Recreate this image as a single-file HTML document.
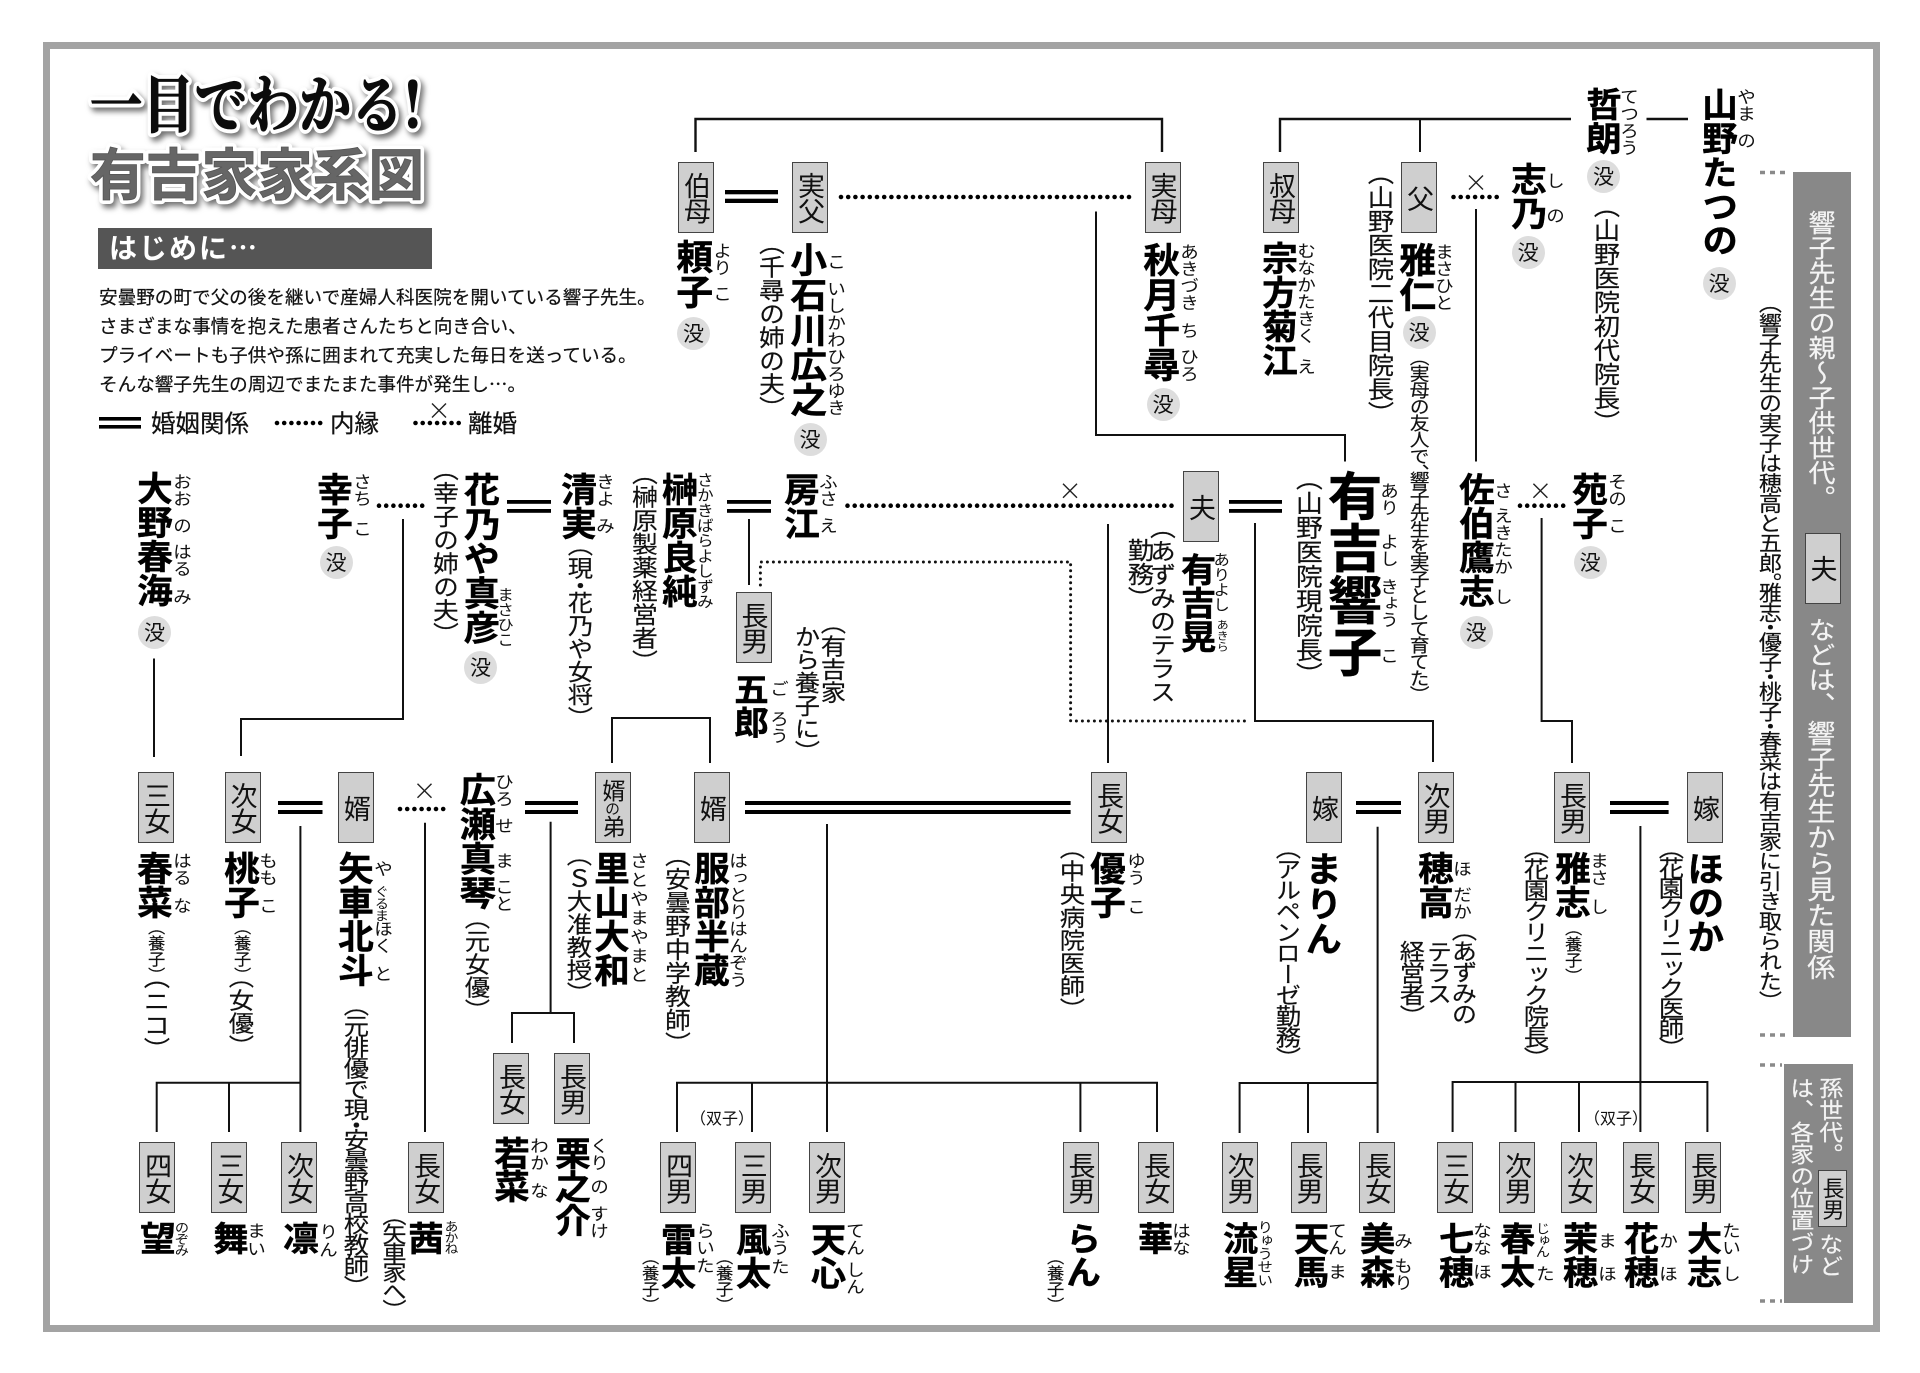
<!DOCTYPE html>
<html lang="ja"><head><meta charset="utf-8"><title>有吉家家系図</title>
<style>
html,body{margin:0;padding:0;background:#fff}
#w{position:relative;width:1920px;height:1373px;overflow:hidden;background:#fff;font-family:"Liberation Sans","Noto Sans CJK JP",sans-serif;color:#111}
svg{position:absolute;left:0;top:0}
p{margin:0;position:absolute;white-space:nowrap;line-height:1;writing-mode:vertical-rl;text-orientation:upright;font-feature-settings:"vhal"}
.n{font-size:35px;font-weight:700;color:#000;font-feature-settings:normal;-webkit-text-stroke:.4px #000;transform:translate(-.11em,-.02em) scaleX(1.05)}
.f{font-size:17px;letter-spacing:0;font-feature-settings:normal;transform:translateX(-.13em) scaleX(1.1)}
.t{font-size:23.5px;-webkit-text-stroke:.15px #111;transform:translateX(-.08em) scaleX(1.1)}
.s{font-size:16px;transform:translateX(-.1em) scaleX(1.08);-webkit-text-stroke:.15px #111}
.m{width:33px;height:33px;border-radius:50%;background:#ddd;writing-mode:horizontal-tb;text-align:center;line-height:33px;font-size:21px;font-family:"Noto Sans CJK JP",sans-serif}
.h{writing-mode:horizontal-tb;font-feature-settings:normal;font-family:"Noto Sans CJK JP",sans-serif;-webkit-text-stroke:.2px #111}
.b{position:absolute;box-sizing:border-box;width:36px;height:71px;padding-right:3px;background:#cfcfcf;border:1.5px solid #444;writing-mode:vertical-rl;text-orientation:upright;display:flex;align-items:center;justify-content:center;font-size:27px;letter-spacing:-1.5px;line-height:1;color:#111}
.w{color:#f4f4f4;font-feature-settings:normal;transform:translateX(-.13em) scaleX(1.08);-webkit-text-stroke:.2px #f4f4f4}
</style></head><body><div id="w">
<svg width="1920" height="1373" viewBox="0 0 1920 1373">
<rect x="46.5" y="45.5" width="1830" height="1283" fill="none" stroke="#a3a3a3" stroke-width="7"/>
<g font-family="'Noto Serif CJK JP','Noto Serif CJK SC',serif" font-weight="700" style="filter:drop-shadow(3px 4px 3px rgba(0,0,0,.55))">
<text x="90" y="127" font-size="62" textLength="332" lengthAdjust="spacingAndGlyphs" fill="#fff" stroke="#fff" stroke-width="9" stroke-linejoin="round">一目でわかる!</text>
<text x="90" y="127" font-size="62" textLength="332" lengthAdjust="spacingAndGlyphs" fill="#0c0c0c" stroke="#0c0c0c" stroke-width="1.2">一目でわかる!</text></g>
<g font-family="'Noto Sans CJK JP',sans-serif" font-weight="700" style="filter:drop-shadow(3px 4px 3px rgba(0,0,0,.55))">
<text x="90" y="195" font-size="56" textLength="334" lengthAdjust="spacingAndGlyphs" fill="#fff" stroke="#fff" stroke-width="8" stroke-linejoin="round">有吉家家系図</text>
<text x="90" y="195" font-size="56" textLength="334" lengthAdjust="spacingAndGlyphs" fill="#666" stroke="#555" stroke-width=".8">有吉家家系図</text></g>
<rect x="98" y="228" width="334" height="41" fill="#555"/>
<text x="109" y="258" font-family="'Noto Sans CJK JP',sans-serif" font-weight="700" font-size="28" letter-spacing="2" fill="#fff">はじめに…</text>
<!-- sidebars -->
<rect x="1793" y="172" width="58" height="865" fill="#888"/>
<rect x="1784" y="1064" width="69" height="239" fill="#888"/>
<g stroke="#8a8a8a" stroke-width="3.5" stroke-dasharray="5 5" fill="none">
<path d="M1760 172.5H1786M1760 1035H1786M1760 1065H1782M1760 1301H1782"/></g>
<!-- solid lines -->
<g fill="none" stroke="#111" stroke-width="2">
<path d="M695.5 152V119H1162V152" stroke-width="2.4"/>
<path d="M1280 152V119H1571" stroke-width="2.4"/>
<path d="M1420 119V152"/>
<path d="M1646.5 119H1688" stroke-width="2.4"/>
<path d="M1096 211.5V435H1345V461.5"/>
<path d="M1476 209V461.5"/>
<path d="M403 519V719H241V756"/>
<path d="M154 658.5V757"/>
<path d="M612 763V718H710V763"/>
<path d="M749 519V585"/>
<path d="M1108 524V763"/>
<path d="M1255 523V721H1433V762"/>
<path d="M1541.6 518V721H1572V763"/>
<path d="M300.4 826V1132M156.7 1132V1082.7H300.4M229 1082.7V1132"/>
<path d="M425 822.7V1132"/>
<path d="M550.6 821.7V1013M512 1043V1013H574V1043"/>
<path d="M827 824V1132M677 1132V1082.7H1157V1132M752 1082.7V1132M1080.4 1082.7V1132"/>
<path d="M1377.6 826.7V1133M1239.6 1133V1083H1377.6M1308 1083V1133"/>
<path d="M1640.4 826V1132M1452.6 1132V1082H1707.4V1132M1515.5 1082V1132M1579 1082V1132"/>
</g>
<!-- double lines -->
<g fill="#000">
<rect x="725" y="190" width="53" height="4.3"/><rect x="725" y="198.7" width="53" height="4.3"/>
<rect x="99" y="417" width="42" height="3.6"/><rect x="99" y="425" width="42" height="3.6"/>
<rect x="507" y="500" width="44" height="3.8"/><rect x="507" y="509" width="44" height="3.8"/>
<rect x="727" y="500" width="44" height="3.8"/><rect x="727" y="509" width="44" height="3.8"/>
<rect x="1229" y="500" width="53" height="3.8"/><rect x="1229" y="509" width="53" height="3.8"/>
<rect x="278" y="801" width="44.5" height="4"/><rect x="278" y="810" width="44.5" height="4"/>
<rect x="525" y="801" width="53" height="4"/><rect x="525" y="810" width="53" height="4"/>
<rect x="745" y="801" width="325.6" height="4"/><rect x="745" y="810" width="325.6" height="4"/>
<rect x="1356" y="801" width="45" height="4"/><rect x="1356" y="810" width="45" height="4"/>
<rect x="1610" y="801" width="58.6" height="4"/><rect x="1610" y="810" width="58.6" height="4"/>
</g>
<!-- dots -->
<g fill="none" stroke="#000" stroke-width="4.6" stroke-linecap="round" stroke-dasharray="0 7.2">
<path d="M841 197H1136"/>
<path d="M1453.5 197H1499"/>
<path d="M277 423H321"/><path d="M415.5 423H460"/>
<path d="M379 505.7H425"/>
<path d="M847.5 505.7H1172"/>
<path d="M1520 505.7H1565"/>
<path d="M400 809H446"/>
</g>
<path d="M760.4 585V562H1070.6V721H1250" fill="none" stroke="#111" stroke-width="3" stroke-linecap="round" stroke-dasharray="0 6"/>
<!-- crosses -->
<g fill="none" stroke="#222" stroke-width="1.4">
<path d="M1469 175.5l14 14m0-14l-14 14"/>
<path d="M432 403.5l14 14m0-14l-14 14"/>
<path d="M1063 483.7l14 14m0-14l-14 14"/>
<path d="M1533.4 483.7l14 14m0-14l-14 14"/>
<path d="M417.5 783.7l14 14m0-14l-14 14"/>
</g>
</svg>

<!-- intro -->
<p class="h" style="left:99px;top:288px;font-size:18.6px">安曇野の町で父の後を継いで産婦人科医院を開いている響子先生。</p>
<p class="h" style="left:99px;top:317px;font-size:18.6px">さまざまな事情を抱えた患者さんたちと向き合い、</p>
<p class="h" style="left:99px;top:346px;font-size:18.6px">プライベートも子供や孫に囲まれて充実した毎日を送っている。</p>
<p class="h" style="left:99px;top:375px;font-size:18.6px">そんな響子先生の周辺でまたまた事件が発生し…。</p>
<p class="h" style="left:151px;top:411px;font-size:24.5px">婚姻関係</p>
<p class="h" style="left:330px;top:411px;font-size:24.5px">内縁</p>
<p class="h" style="left:468px;top:411px;font-size:24.5px">離婚</p>

<!-- row 1 tags -->
<div class="b" style="left:678px;top:162px">伯母</div>
<div class="b" style="left:792px;top:162px">実父</div>
<div class="b" style="left:1144.5px;top:162px">実母</div>
<div class="b" style="left:1263px;top:162px">叔母</div>
<div class="b" style="left:1401px;top:162px">父</div>
<!-- row 1 names -->
<p class="n" style="left:678px;top:240px">頼子</p><p class="f" style="left:714px;top:241.7px">より</p><p class="f" style="left:714px;top:285px">こ</p><p class="m" style="left:677px;top:316.5px">没</p>
<p class="t" style="left:759px;top:243px">（千尋の姉の夫）</p>
<p class="n" style="left:792px;top:242.7px">小石川広之</p><p class="f" style="left:827.5px;top:253px">こ</p><p class="f" style="left:827.5px;top:280px">いしかわひろゆき</p><p class="m" style="left:793.5px;top:422.5px">没</p>
<p class="n" style="left:1145px;top:243px">秋月千尋</p><p class="f" style="left:1180.5px;top:243px">あきづき</p><p class="f" style="left:1180.5px;top:322px">ち</p><p class="f" style="left:1180.5px;top:348px">ひろ</p><p class="m" style="left:1146.5px;top:387.5px">没</p>
<p class="n" style="left:1263px;top:241.7px;font-size:34px">宗方菊江</p><p class="f" style="left:1298px;top:241.7px">むなかたきく</p><p class="f" style="left:1298px;top:358px">え</p>
<p class="t" style="left:1366.5px;top:173px;font-size:24px">（山野医院二代目院長）</p>
<p class="n" style="left:1401px;top:242.7px">雅仁</p><p class="f" style="left:1436px;top:243px">まさひと</p><p class="m" style="left:1402.5px;top:316px">没</p>
<p class="t" style="left:1411px;top:357px;font-size:18px;letter-spacing:-1.5px">（実母の友人で、響子先生を実子として育てた）</p>
<p class="n" style="left:1512px;top:163px;font-size:34px">志乃</p><p class="f" style="left:1547px;top:172px">し</p><p class="f" style="left:1547px;top:207px">の</p><p class="m" style="left:1511.5px;top:236px">没</p>
<p class="n" style="left:1587px;top:88px;font-size:34px">哲朗</p><p class="f" style="left:1621px;top:88px">てつろう</p><p class="m" style="left:1587px;top:160px">没</p>
<p class="t" style="left:1592.5px;top:205.7px;font-size:24px">（山野医院初代院長）</p>
<p class="n" style="left:1703px;top:88px;font-size:34px">山野たつの</p><p class="f" style="left:1738px;top:88px">やま</p><p class="f" style="left:1738px;top:132px">の</p><p class="m" style="left:1702.5px;top:266.5px">没</p>

<!-- sidebars text -->
<p class="w" style="left:1809.5px;top:210px;font-size:25px">響子先生の親～子供世代。</p>
<div class="b" style="left:1804.5px;top:532.5px">夫</div>
<p class="w" style="left:1809.5px;top:617px;font-size:25px">などは、</p>
<p class="w" style="left:1809.5px;top:720px;font-size:26px">響子先生から見た関係</p>
<p class="t" style="left:1759.6px;top:303px;font-size:21px;letter-spacing:-1px">（響子先生の実子は穂高と五郎。雅志・優子・桃子・春菜は有吉家に引き取られた）</p>
<p class="w" style="left:1821px;top:1077px;font-size:22px">孫世代。</p>
<div class="b" style="left:1818px;top:1170px;width:29px;height:57px;font-size:22px;letter-spacing:-.5px;padding-right:2px">長男</div>
<p class="w" style="left:1821px;top:1233px;font-size:22px">など</p>
<p class="w" style="left:1792px;top:1077px;font-size:22px">は、各家の位置づけ</p>

<!-- row 2 -->
<p class="n" style="left:138px;top:471.7px;font-size:34px">大野春海</p><p class="f" style="left:174px;top:472.7px">おお</p><p class="f" style="left:174px;top:517px">の</p><p class="f" style="left:174px;top:543px">はる</p><p class="f" style="left:174px;top:588px">み</p><p class="m" style="left:138px;top:615.5px">没</p>
<p class="n" style="left:318px;top:472.7px;font-size:34px">幸子</p><p class="f" style="left:354px;top:472.7px">さち</p><p class="f" style="left:354px;top:520px">こ</p><p class="m" style="left:319.5px;top:545.5px">没</p>
<p class="t" style="left:432.6px;top:469px;font-size:23.5px">（幸子の姉の夫）</p>
<p class="n" style="left:463.7px;top:472.7px;font-size:34.5px">花乃や真彦</p><p class="f" style="left:499px;top:586.7px;font-size:15px;letter-spacing:0">まさひこ</p><p class="m" style="left:464px;top:650.5px">没</p>
<p class="n" style="left:561.6px;top:472.7px;font-size:34px">清実</p><p class="f" style="left:597px;top:472.7px">きよ</p><p class="f" style="left:597px;top:516.7px">み</p>
<p class="t" style="left:567.7px;top:545px;font-size:23px">（現・花乃や女将）</p>
<p class="t" style="left:632px;top:473px">（榊原製薬経営者）</p>
<p class="n" style="left:663px;top:472.7px;font-size:34px">榊原良純</p><p class="f" style="left:698px;top:472px;font-size:15.2px;letter-spacing:0">さかきばらよしずみ</p>
<p class="n" style="left:785px;top:472.7px;font-size:34px">房江</p><p class="f" style="left:820px;top:472.7px">ふさ</p><p class="f" style="left:820px;top:516.7px">え</p>
<div class="b" style="left:735.5px;top:592px">長男</div>
<p class="n" style="left:736px;top:672.7px;font-size:33px">五郎</p><p class="f" style="left:771px;top:680px">ご</p><p class="f" style="left:771px;top:710px">ろう</p>
<p class="t" style="left:821px;top:623px;font-size:23px">（有吉家</p>
<p class="t" style="left:794.7px;top:625px;font-size:23px">から養子に）</p>
<div class="b" style="left:1183px;top:471px">夫</div>
<p class="t" style="left:1150px;top:527px;font-size:23.5px">（あずみのテラス</p>
<p class="t" style="left:1126.5px;top:538px;font-size:24px">勤務）</p>
<p class="n" style="left:1181px;top:552.7px;font-size:33.5px">有吉晃</p><p class="f" style="left:1215px;top:551.7px;font-size:15px;letter-spacing:0">ありよし</p><p class="f" style="left:1217px;top:619px;font-size:11px;letter-spacing:0">あきら</p>
<p class="t" style="left:1296px;top:478px;font-size:24.5px">（山野医院現院長）</p>
<p class="n" style="left:1329px;top:471px;font-size:52px">有吉響子</p><p class="f" style="left:1381px;top:481.7px">あり</p><p class="f" style="left:1381px;top:533px">よし</p><p class="f" style="left:1381px;top:578px;letter-spacing:-.5px">きょう</p><p class="f" style="left:1381px;top:646.7px">こ</p>
<p class="n" style="left:1459.6px;top:473px;font-size:34px">佐伯鷹志</p><p class="f" style="left:1495px;top:481.7px">さ</p><p class="f" style="left:1495px;top:506.7px">えきたか</p><p class="f" style="left:1495px;top:588px">し</p><p class="m" style="left:1459.5px;top:615.5px">没</p>
<p class="n" style="left:1573px;top:472.7px;font-size:34px">苑子</p><p class="f" style="left:1608.6px;top:472.7px">その</p><p class="f" style="left:1608.6px;top:516.7px">こ</p><p class="m" style="left:1573.5px;top:545.5px">没</p>

<!-- row 3 tags -->
<div class="b" style="left:138px;top:772px">三女</div>
<div class="b" style="left:224.5px;top:772px">次女</div>
<div class="b" style="left:338px;top:772px">婿</div>
<div class="b" style="left:595px;top:772px;font-size:23px;letter-spacing:-1px">婿<span style="font-size:15px">の</span>弟</div>
<div class="b" style="left:694px;top:772px">婿</div>
<div class="b" style="left:1091px;top:772px">長女</div>
<div class="b" style="left:1306px;top:772px">嫁</div>
<div class="b" style="left:1417.5px;top:772px">次男</div>
<div class="b" style="left:1554px;top:772px">長男</div>
<div class="b" style="left:1687px;top:772px">嫁</div>

<!-- row 3 names -->
<p class="n" style="left:138px;top:851.7px;font-size:34px">春菜</p><p class="f" style="left:174px;top:851.7px">はる</p><p class="f" style="left:174px;top:897px">な</p>
<p class="s" style="left:147px;top:926.7px">（養子）</p><p class="t" style="left:143px;top:976.7px;font-size:24px">（ニコ）</p>
<p class="n" style="left:224.5px;top:851.7px;font-size:34px">桃子</p><p class="f" style="left:260.4px;top:851.7px">もも</p><p class="f" style="left:260.4px;top:897px">こ</p>
<p class="s" style="left:232.6px;top:926.7px">（養子）</p><p class="t" style="left:229px;top:976.7px;font-size:23px">（女優）</p>
<p class="n" style="left:339px;top:851.7px;font-size:34px">矢車北斗</p><p class="f" style="left:374.7px;top:860px">や</p><p class="f" style="left:376px;top:885px;font-size:13px;letter-spacing:-1px">ぐるま</p><p class="f" style="left:374.7px;top:920px">ほく</p><p class="f" style="left:374.7px;top:965px">と</p>
<p class="t" style="left:344px;top:1005px;font-size:23px;letter-spacing:-2.1px">（元俳優で現・安曇野高校教師）</p>
<p class="n" style="left:460.4px;top:772.7px;font-size:34.5px">広瀬真琴</p><p class="f" style="left:496px;top:772.7px">ひろ</p><p class="f" style="left:496px;top:817px">せ</p><p class="f" style="left:496px;top:851.7px">ま</p><p class="f" style="left:496px;top:878px">こと</p>
<p class="t" style="left:464.5px;top:918px;font-size:23px">（元女優）</p>
<p class="t" style="left:566.5px;top:855px;font-size:23px">（Ｓ大准教授）</p>
<p class="n" style="left:595px;top:851.7px;font-size:34px">里山大和</p><p class="f" style="left:631px;top:851.7px;letter-spacing:2px">さとやまやまと</p>
<p class="t" style="left:665px;top:855px;font-size:23.5px">（安曇野中学教師）</p>
<p class="n" style="left:695px;top:851.7px;font-size:34px">服部半蔵</p><p class="f" style="left:730px;top:851.7px">はっとりはんぞう</p>
<p class="t" style="left:1060px;top:848px;font-size:23px">（中央病院医師）</p>
<p class="n" style="left:1091px;top:851.7px;font-size:34px">優子</p><p class="f" style="left:1128px;top:851.7px">ゆう</p><p class="f" style="left:1128px;top:898px">こ</p>
<p class="t" style="left:1276px;top:848px;font-size:23px;letter-spacing:-2px">（アルペンローゼ勤務）</p>
<p class="n" style="left:1307px;top:851.7px">まりん</p>
<p class="n" style="left:1418.8px;top:851.7px;font-size:34px">穂高</p><p class="f" style="left:1454px;top:860px">ほ</p><p class="f" style="left:1454px;top:886px">だか</p>
<p class="t" style="left:1452px;top:930px;font-size:23px;letter-spacing:-2px">（あずみの</p>
<p class="t" style="left:1427px;top:940px;font-size:23px;letter-spacing:-2px">テラス</p>
<p class="t" style="left:1400px;top:940px;font-size:23px;letter-spacing:-1.5px">経営者）</p>
<p class="t" style="left:1524px;top:848px;font-size:23px;letter-spacing:-2px">（花園クリニック院長）</p>
<p class="n" style="left:1555.5px;top:851.7px;font-size:34px">雅志</p><p class="f" style="left:1591px;top:851.7px">まさ</p><p class="f" style="left:1591px;top:898px">し</p>
<p class="s" style="left:1563.7px;top:928px">（養子）</p>
<p class="t" style="left:1658.8px;top:848px;font-size:23px;letter-spacing:-3px">（花園クリニック医師）</p>
<p class="n" style="left:1689.4px;top:851.7px;letter-spacing:-1px">ほのか</p>

<!-- row 4 tags -->
<div class="b" style="left:139px;top:1141.5px">四女</div>
<div class="b" style="left:211.4px;top:1141.5px">三女</div>
<div class="b" style="left:281px;top:1141.5px">次女</div>
<div class="b" style="left:408px;top:1141.5px">長女</div>
<div class="b" style="left:493px;top:1052.5px">長女</div>
<div class="b" style="left:554px;top:1052.5px">長男</div>
<div class="b" style="left:660px;top:1141.5px">四男</div>
<div class="b" style="left:734.7px;top:1141.5px">三男</div>
<div class="b" style="left:809px;top:1141.5px">次男</div>
<div class="b" style="left:1062.5px;top:1141.5px">長男</div>
<div class="b" style="left:1138px;top:1141.5px">長女</div>
<div class="b" style="left:1221.6px;top:1141.5px">次男</div>
<div class="b" style="left:1290.6px;top:1141.5px">長男</div>
<div class="b" style="left:1359px;top:1141.5px">長女</div>
<div class="b" style="left:1437px;top:1142px">三女</div>
<div class="b" style="left:1499px;top:1142px">次男</div>
<div class="b" style="left:1561px;top:1142px">次女</div>
<div class="b" style="left:1623px;top:1142px">長女</div>
<div class="b" style="left:1685px;top:1142px">長男</div>

<p class="h" style="left:690px;top:1109px;font-size:16px;-webkit-text-stroke:0">（双子）</p>
<p class="h" style="left:1584px;top:1109px;font-size:16px;-webkit-text-stroke:0">（双子）</p>

<!-- row 4 names -->
<p class="n" style="left:140.8px;top:1221.7px;font-size:34px">望</p><p class="f" style="left:176px;top:1220.7px;font-size:13px;letter-spacing:-1.6px">のぞみ</p>
<p class="n" style="left:213.5px;top:1221.7px;font-size:34px">舞</p><p class="f" style="left:248px;top:1221.7px">ま</p><p class="f" style="left:248px;top:1240px">い</p>
<p class="n" style="left:283.7px;top:1221.7px;font-size:34px">凛</p><p class="f" style="left:319.6px;top:1223px">り</p><p class="f" style="left:319.6px;top:1241px">ん</p>
<p class="t" style="left:383px;top:1215px;font-size:22px;letter-spacing:-3px">（矢車家へ）</p>
<p class="n" style="left:408.6px;top:1221.7px;font-size:34px">茜</p><p class="f" style="left:445px;top:1220px;font-size:12.5px;letter-spacing:-1.5px">あかね</p>
<p class="n" style="left:495px;top:1136.7px;font-size:34px;letter-spacing:-1px">若菜</p><p class="f" style="left:531px;top:1136.7px">わか</p><p class="f" style="left:531px;top:1181.7px">な</p>
<p class="n" style="left:556px;top:1136.7px;font-size:34px;letter-spacing:-.5px">栗之介</p><p class="f" style="left:591px;top:1136.7px">くり</p><p class="f" style="left:591px;top:1178px">の</p><p class="f" style="left:591px;top:1205px">すけ</p>
<p class="s" style="left:640.8px;top:1256.7px">（養子）</p>
<p class="n" style="left:661px;top:1223px;font-size:33.5px">雷太</p><p class="f" style="left:696.7px;top:1222px">らい</p><p class="f" style="left:696.7px;top:1257px">た</p>
<p class="s" style="left:715px;top:1256.7px">（養子）</p>
<p class="n" style="left:736px;top:1223px;font-size:33.5px">風太</p><p class="f" style="left:771.7px;top:1222px">ふう</p><p class="f" style="left:771.7px;top:1258px">た</p>
<p class="n" style="left:811px;top:1223px;font-size:33.5px">天心</p><p class="f" style="left:846.5px;top:1222px">てん</p><p class="f" style="left:846.5px;top:1261px">しん</p>
<p class="s" style="left:1046px;top:1256.7px">（養子）</p>
<p class="n" style="left:1066px;top:1222px;font-size:33.5px">らん</p>
<p class="n" style="left:1138px;top:1221.7px;font-size:33.5px">華</p><p class="f" style="left:1173px;top:1221.7px">はな</p>
<p class="n" style="left:1223px;top:1221.7px;font-size:33.5px">流星</p><p class="f" style="left:1260px;top:1220px;font-size:14px;letter-spacing:-.7px">りゅうせい</p>
<p class="n" style="left:1293.5px;top:1221.7px;font-size:33.5px">天馬</p><p class="f" style="left:1329px;top:1221.7px">てん</p><p class="f" style="left:1329px;top:1263px">ま</p>
<p class="n" style="left:1360.4px;top:1221.7px;font-size:33.5px">美森</p><p class="f" style="left:1395px;top:1231.7px">み</p><p class="f" style="left:1395px;top:1256.7px">もり</p>
<p class="n" style="left:1439px;top:1221.7px;font-size:33.5px">七穂</p><p class="f" style="left:1474px;top:1221.7px">なな</p><p class="f" style="left:1474px;top:1263px">ほ</p>
<p class="n" style="left:1500px;top:1221.7px;font-size:33.5px">春太</p><p class="f" style="left:1537px;top:1221.7px;font-size:13px;letter-spacing:-1.5px">じゅん</p><p class="f" style="left:1537px;top:1265px">た</p>
<p class="n" style="left:1562.6px;top:1221.7px;font-size:33.5px">茉穂</p><p class="f" style="left:1599px;top:1231.7px">ま</p><p class="f" style="left:1599px;top:1265px">ほ</p>
<p class="n" style="left:1624px;top:1221.7px;font-size:33.5px">花穂</p><p class="f" style="left:1660px;top:1231.7px">か</p><p class="f" style="left:1660px;top:1265px">ほ</p>
<p class="n" style="left:1687px;top:1221.7px;font-size:33.5px">大志</p><p class="f" style="left:1723px;top:1221.7px">たい</p><p class="f" style="left:1723px;top:1265px">し</p>
</div></body></html>
